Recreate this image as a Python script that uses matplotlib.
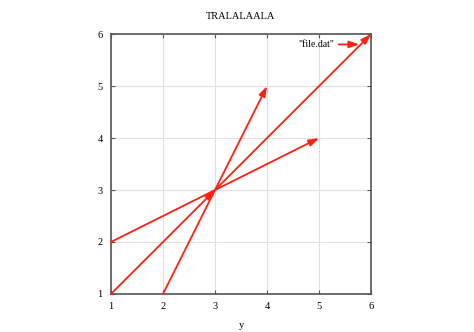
import matplotlib
matplotlib.use("Agg")
import matplotlib.pyplot as plt

# vectors from file.dat: start point and displacement
x0 = [1, 3, 1, 2]
y0 = [1, 3, 2, 1]
dx = [2, 3, 4, 2]
dy = [2, 3, 2, 4]

xticks = [1, 2, 3, 4, 5, 6]
yticks = [1, 2, 3, 4, 5, 6]
title = "TRALALAALA"
xlabel = "y"
series_label = '"file.dat"'

plt.rcParams["font.family"] = ["Liberation Serif", "DejaVu Serif"]
red = "#ff2010"

fig = plt.figure(figsize=(4.74, 3.32), dpi=100)
ax = fig.add_axes([0.234, 0.1145, 0.549, 0.783])

arrow_kw = dict(arrowstyle="-|>,head_length=0.6,head_width=0.2",
                color=red, lw=1.3, shrinkA=0, shrinkB=0)
for xs, ys, ddx, ddy in zip(x0, y0, dx, dy):
    ax.annotate("", xy=(xs + ddx, ys + ddy), xytext=(xs, ys),
                arrowprops=arrow_kw)

# legend entry, gnuplot style
ax.annotate("", xy=(0.955, 0.96), xytext=(0.875, 0.96),
            xycoords="axes fraction", arrowprops=arrow_kw)
ax.text(0.86, 0.96, series_label, transform=ax.transAxes,
        ha="right", va="center", fontsize=7)

ax.set_xlim(1, 6)
ax.set_ylim(1, 6)
ax.set_xticks(xticks)
ax.set_yticks(yticks)
ax.grid(True, color="#e0e0e0", lw=0.8)
ax.tick_params(direction="in", top=True, right=True, labelsize=7.5,
               length=3, color="#555555", pad=6)
for sp in ax.spines.values():
    sp.set_color("#555555")
    sp.set_linewidth(1.2)

ax.set_title(title, fontsize=7.5, pad=11)
ax.set_xlabel(xlabel, fontsize=7.5, labelpad=7)

fig.savefig("out.png", dpi=100)
